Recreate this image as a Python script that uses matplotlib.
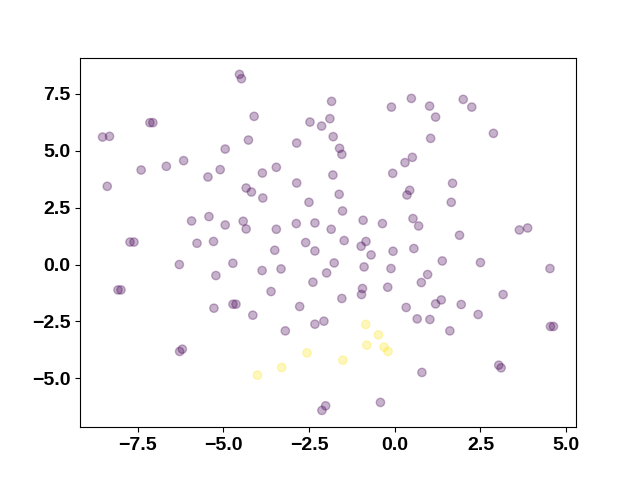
import matplotlib
matplotlib.use("Agg")
import matplotlib.pyplot as plt
from matplotlib.ticker import MultipleLocator
import numpy as np

# cluster 0 (purple)
x0 = [-4.533, -4.475, -7.146, -7.059, -8.528, -8.324, -4.949, -4.271, -4.105, -7.402,
      -6.666, -6.162, -5.452, -5.095, -8.391, -4.338, -4.184, -5.930, -5.423, -4.949,
      -4.425, -4.338, -7.728, -7.611, -5.772, -5.290, -1.845, -2.476, -2.136, -1.894,
      -2.863, -1.798, -1.612, -1.545, -0.099, 0.483, -3.864, -3.457, -2.863, -1.807,
      -3.852, -2.505, -1.624, -0.061, 0.297, 0.512, 0.434, 0.355, -1.525, -0.925,
      -0.361, 0.530, -2.875, -2.331, -1.856, -3.457, -2.601, -1.478, -0.841, -0.983,
      1.996, 2.246, 1.015, 1.190, 1.045, 2.878, 1.685, 1.647, 0.695, 1.888,
      3.634, 3.876, -6.287, -4.725, -5.220, -8.077, -7.990, -5.278, -4.722, -4.635,
      -4.143, -6.279, -6.200, -3.503, -2.331, -0.692, -0.052, 0.556, -3.873, -3.320,
      -1.769, -1.990, -0.896, -0.111, -2.389, -3.611, -0.943, -0.972, -0.207, -1.545,
      -2.776, 0.332, 0.652, -3.195, -2.331, -2.069, -2.019, -2.127, -0.419, 1.385,
      2.499, 4.527, 0.957, 0.774, 3.160, 1.356, 1.190, 1.938, 2.432, 1.024,
      1.606, 4.542, 4.629, 3.032, 3.102, 0.791]
y0 = [8.358, 8.169, 6.236, 6.236, 5.604, 5.635, 5.077, 5.472, 6.513, 4.155,
      4.317, 4.567, 3.847, 4.172, 3.439, 3.364, 3.188, 1.915, 2.108, 1.739,
      1.902, 1.563, 0.988, 0.988, 0.935, 1.014, 7.172, 6.263, 6.087, 6.412,
      5.340, 5.621, 5.108, 4.844, 6.921, 7.303, 4.023, 4.273, 3.584, 3.935,
      2.925, 2.736, 3.087, 4.010, 4.480, 4.712, 3.263, 3.057, 2.354, 1.946,
      1.801, 2.020, 1.801, 1.827, 1.550, 1.550, 0.966, 1.054, 1.014, 0.804,
      7.260, 6.921, 6.965, 6.482, 5.547, 5.766, 3.571, 2.736, 1.695, 1.287,
      1.520, 1.607, 0.000, 0.057, -0.483, -1.116, -1.116, -1.919, -1.744, -1.744,
      -2.227, -3.821, -3.720, 0.628, 0.597, 0.422, 0.584, 0.703, -0.264, -0.193,
      0.070, -0.369, -0.105, -0.176, -0.777, -1.186, -1.054, -1.318, -0.997, -1.493,
      -1.845, -1.888, -2.389, -2.916, -2.622, -2.490, -6.210, -6.412, -6.061, 0.158,
      0.088, -0.176, -0.439, -0.791, -1.318, -1.555, -1.730, -1.757, -2.196, -2.415,
      -2.916, -2.723, -2.723, -4.423, -4.541, -4.743]

# cluster 1 (yellow)
x1 = [-0.847, -0.477, -0.818, -0.314, -0.198, -2.563, -1.516, -3.299, -4.009]
y1 = [-2.635, -3.092, -3.544, -3.632, -3.821, -3.882, -4.203, -4.524, -4.862]

x = np.array(x0 + x1)
y = np.array(y0 + y1)
labels = np.array([0] * len(x0) + [1] * len(x1))

plt.rcParams['font.family'] = ['Liberation Sans', 'DejaVu Sans']
fig, ax = plt.subplots(figsize=(6.4, 4.8), dpi=100)
ax.scatter(x, y, c=labels, cmap='viridis', alpha=0.3)
ax.xaxis.set_major_locator(MultipleLocator(2.5))
ax.yaxis.set_major_locator(MultipleLocator(2.5))
for lab in ax.get_xticklabels() + ax.get_yticklabels():
    lab.set_fontweight('bold')
    lab.set_fontsize(14)
plt.savefig("out.png")
